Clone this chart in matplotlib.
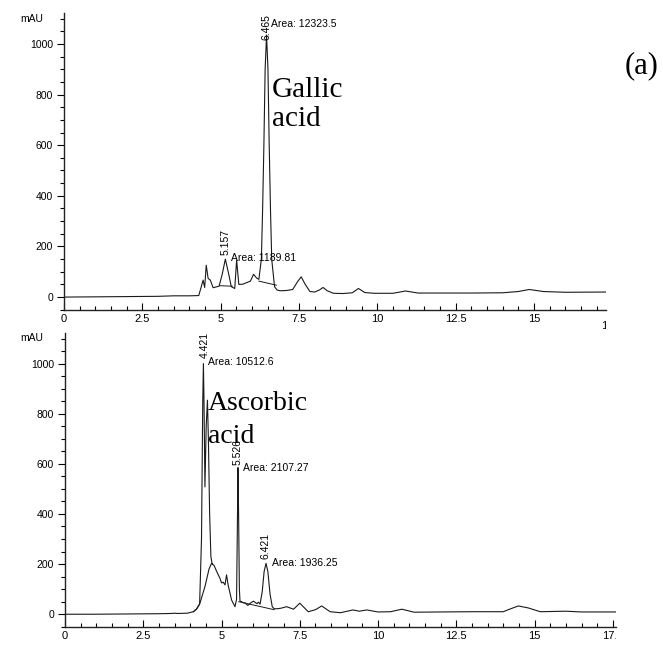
import matplotlib
matplotlib.use("Agg")
import matplotlib.pyplot as plt
import matplotlib.transforms as mtransforms
from matplotlib.ticker import MultipleLocator

# ---------------- data ----------------
# Panel 1: Gallic acid chromatogram (time [min], signal [mAU])
gallic_t = [0, 1.0, 2.0, 3.0, 3.5, 4.0, 4.3, 4.38, 4.44, 4.49, 4.54, 4.60, 4.67,
            4.76, 4.85, 4.95, 5.05, 5.15, 5.25, 5.34, 5.45, 5.51, 5.58, 5.71,
            5.85, 5.95, 6.05, 6.15, 6.22, 6.30, 6.34, 6.38, 6.42, 6.465, 6.51,
            6.55, 6.59, 6.63, 6.72, 6.80, 6.90, 7.10, 7.30, 7.45, 7.57, 7.70,
            7.85, 8.00, 8.15, 8.27, 8.40, 8.60, 8.90, 9.20, 9.40, 9.60, 9.90,
            10.5, 10.9, 11.3, 12.0, 13.0, 14.0, 14.5, 14.85, 15.3, 16.0, 17.3]
gallic_y = [0, 1, 2, 3, 5, 5, 6, 40, 67, 38, 126, 74, 67,
            37, 40, 43, 90, 150, 95, 41, 34, 146, 50, 51,
            58, 63, 90, 75, 70, 150, 350, 600, 900, 1035, 900,
            600, 350, 150, 41, 28, 25, 26, 30, 60, 80, 50,
            22, 20, 28, 38, 25, 15, 14, 17, 34, 18, 15,
            15, 24, 16, 16, 16, 17, 22, 30, 22, 19, 20]
gallic_base1_t = [4.97, 5.37]
gallic_base1_y = [45, 43]
gallic_base2_t = [6.22, 6.78]
gallic_base2_y = [63, 47]

# Panel 2: Ascorbic acid chromatogram
ascorbic_t = [0, 1.0, 2.0, 3.0, 3.4, 3.5, 3.6, 3.9, 4.1, 4.2, 4.3, 4.36, 4.40,
              4.421, 4.44, 4.47, 4.51, 4.55, 4.58, 4.62, 4.66, 4.70, 4.76, 4.84,
              4.95, 5.00, 5.05, 5.11, 5.16, 5.21, 5.32, 5.43, 5.48, 5.51, 5.526,
              5.545, 5.57, 5.59, 5.64, 5.69, 5.75, 5.84, 5.93, 6.02, 6.13, 6.18,
              6.23, 6.30, 6.36, 6.421, 6.48, 6.55, 6.62, 6.68, 6.80, 6.90, 7.08,
              7.30, 7.50, 7.65, 7.77, 8.00, 8.20, 8.35, 8.47, 8.80, 9.20, 9.40,
              9.64, 10.0, 10.4, 10.76, 11.15, 12.0, 13.0, 14.0, 14.2, 14.48, 14.8,
              15.18, 16.0, 16.5, 17.6]
ascorbic_y = [0, 0, 1, 2, 3, 4, 3, 4, 10, 20, 40, 300, 850,
              1000, 850, 508, 750, 854, 700, 400, 230, 200, 195, 172,
              143, 125, 128, 117, 157, 117, 57, 30, 60, 400, 585,
              400, 100, 52, 50, 46, 45, 35, 45, 52, 42, 48,
              40, 90, 170, 203, 170, 80, 30, 22, 22, 24, 30,
              20, 44, 25, 10, 18, 33, 20, 10, 6, 17, 12,
              17, 9, 10, 20, 8, 9, 10, 10, 20, 33, 25,
              10, 12, 9, 9]
# broad hump rising branch (overlaid trace)
hump_t = [4.10, 4.20, 4.31, 4.47, 4.60, 4.68, 4.72]
hump_y = [10, 20, 44, 110, 180, 203, 200]
ascorbic_base_t = [5.55, 6.68]
ascorbic_base_y = [50, 18]

# annotations: (retention time label, x, y) and (area label, x, y)
gallic_rt = [("6.465", 6.45, 1015), ("5.157", 5.17, 166)]
gallic_area = [("Area: 12323.5", 6.62, 1079), ("Area: 1189.81", 5.33, 154)]
ascorbic_rt = [("4.421", 4.45, 1021), ("5.526", 5.50, 594), ("6.421", 6.42, 220)]
ascorbic_area = [("Area: 10512.6", 4.57, 1005), ("Area: 2107.27", 5.68, 583),
                 ("Area: 1936.25", 6.60, 205)]

x_major = [0, 2.5, 5, 7.5, 10, 12.5, 15, 17.5]
x_major_labels = ["0", "2.5", "5", "7.5", "10", "12.5", "15", "17.5"]
y_major = [0, 200, 400, 600, 800, 1000]
y_major_labels = ["0", "200", "400", "600", "800", "1000"]

# ---------------- figure ----------------
W, H = 663, 646
fig = plt.figure(figsize=(W / 100, H / 100), dpi=100)
fig.patch.set_facecolor("white")

SANS = "Liberation Sans"
SERIF = "Liberation Serif"
LINE = "#1a1a1a"


def px_axes(left, right, top, bottom):
    return fig.add_axes([left / W, 1 - bottom / H, (right - left) / W, (bottom - top) / H])


def style_axes(ax, xmax):
    ax.set_xlim(0, xmax)
    ax.set_ylim(-51, 1122)
    for s in ("top", "right"):
        ax.spines[s].set_visible(False)
    for s in ("left", "bottom"):
        ax.spines[s].set_linewidth(1.0)
        ax.spines[s].set_color("#222222")
    ticks_in = [t for t in x_major if t <= xmax]
    labs_in = [l for t, l in zip(x_major, x_major_labels) if t <= xmax]
    ax.set_xticks(ticks_in, labs_in)
    ax.set_yticks(y_major, y_major_labels)
    ax.xaxis.set_minor_locator(MultipleLocator(0.5))
    ax.yaxis.set_minor_locator(MultipleLocator(50))
    ax.tick_params(axis="x", which="major", direction="in", length=5, width=0.8,
                   labelsize=8, pad=3)
    ax.tick_params(axis="x", which="minor", direction="in", length=3, width=0.8)
    ax.tick_params(axis="y", which="major", direction="out", length=5, width=0.8,
                   labelsize=7.5, pad=3)
    ax.tick_params(axis="y", which="minor", direction="out", length=3, width=0.8)
    for lab in ax.get_xticklabels() + ax.get_yticklabels():
        lab.set_fontfamily(SANS)
    # clip x tick labels at the right end of the axis
    pos = ax.get_position()
    clipbox = mtransforms.TransformedBbox(
        mtransforms.Bbox.from_extents(0, 0, pos.x1, 1), fig.transFigure)
    for tick in ax.xaxis.get_major_ticks():
        tick.label1.set_clip_box(clipbox)
        tick.label1.set_clip_on(True)
    # labels for major ticks beyond the axis end (clipped as in the reference)
    trans = mtransforms.blended_transform_factory(ax.transData, ax.transAxes) + \
        mtransforms.ScaledTranslation(0, -8 / 72, fig.dpi_scale_trans)
    for t, l in zip(x_major, x_major_labels):
        if t > xmax:
            txt = fig.text(t, 0, l, transform=trans, ha="center", va="top",
                           fontsize=8, fontfamily=SANS)
            txt.set_clip_box(clipbox)
            txt.set_clip_on(True)


def annotate(ax, rts, areas):
    for lab, x, y in rts:
        ax.text(x, y, lab, rotation=90, ha="center", va="bottom", fontsize=7.5,
                fontfamily=SANS)
    for lab, x, y in areas:
        ax.text(x, y, lab, ha="left", va="center", fontsize=7.5, fontfamily=SANS)


# ---- top panel ----
ax1 = px_axes(64, 606, 13, 310)
ax1.plot(gallic_t, gallic_y, color=LINE, lw=0.8)
ax1.plot(gallic_base1_t, gallic_base1_y, color=LINE, lw=0.7)
ax1.plot(gallic_base2_t, gallic_base2_y, color=LINE, lw=0.7)
style_axes(ax1, 17.3)
annotate(ax1, gallic_rt, gallic_area)
ax1.text(6.64, 790, "Gallic", fontsize=21, fontfamily=SERIF, ha="left", va="baseline")
ax1.text(6.64, 676, "acid", fontsize=21, fontfamily=SERIF, ha="left", va="baseline")

# ---- bottom panel ----
ax2 = px_axes(65, 616, 333, 627)
ax2.plot(ascorbic_t, ascorbic_y, color=LINE, lw=0.8)
ax2.plot(hump_t, hump_y, color=LINE, lw=0.8)
ax2.plot(ascorbic_base_t, ascorbic_base_y, color=LINE, lw=0.7)
style_axes(ax2, 17.6)
annotate(ax2, ascorbic_rt, ascorbic_area)
ax2.text(4.57, 814, "Ascorbic", fontsize=20, fontfamily=SERIF, ha="left", va="baseline")
ax2.text(4.57, 682, "acid", fontsize=20, fontfamily=SERIF, ha="left", va="baseline")

# units and panel tag
fig.text(20 / W, 1 - 19 / H, "mAU", fontsize=7.5, fontfamily=SANS, ha="left", va="center")
fig.text(20 / W, 1 - 338 / H, "mAU", fontsize=7.5, fontfamily=SANS, ha="left", va="center")
fig.text(625 / W, 1 - 66 / H, "(a)", fontsize=22, fontfamily=SERIF, ha="left", va="center")

fig.savefig("out.png", dpi=100, facecolor="white")
